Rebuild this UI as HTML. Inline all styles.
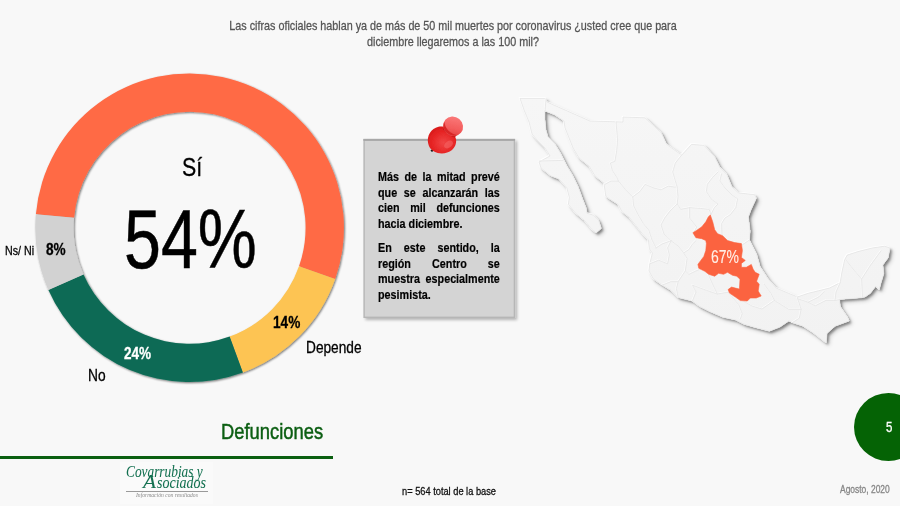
<!DOCTYPE html>
<html lang="es">
<head>
<meta charset="utf-8">
<title>Defunciones</title>
<style>
html,body{margin:0;padding:0;}
body{width:900px;height:506px;overflow:hidden;background:#f8f8f8;font-family:"Liberation Sans",sans-serif;}
#slide{position:relative;width:900px;height:506px;overflow:hidden;background:#f8f8f8;}
.t{position:absolute;white-space:nowrap;line-height:1;transform-origin:0 0;transform:scaleX(0.82);color:#000;-webkit-text-stroke:0.3px currentColor;}
svg{position:absolute;left:0;top:0;}
#title{position:absolute;left:152.5px;top:18.2px;-webkit-text-stroke:0.3px #555;width:600px;text-align:center;font-size:13.15px;line-height:16px;color:#555;transform:scaleX(0.82);transform-origin:50% 0;white-space:nowrap;}
#boxtext{-webkit-text-stroke:0.2px #000;position:absolute;left:378.3px;top:169px;width:148.6px;font-size:13.15px;line-height:15.5px;font-weight:bold;color:#000;transform:scaleX(0.82);transform-origin:0 0;}
#boxtext div{text-align:justify;text-align-last:justify;white-space:nowrap;}
#boxtext div.l{text-align:left;text-align-last:left;}
#boxtext div.g{margin-top:9.2px;}
#rule{position:absolute;left:0;top:456px;width:333px;height:3px;background:#0a5f10;}
#num{position:absolute;left:853.7px;top:393.3px;width:69px;height:68px;border-radius:50%;background:#056305;}
#logo{position:absolute;left:120px;top:462px;width:93px;height:42px;background:#fafafa;}
.lg{font-family:"Liberation Serif",serif;font-style:italic;}
#bigA{position:absolute;right:100%;bottom:-0.47px;font-size:19.5px;line-height:1;transform:scaleX(1.295);transform-origin:100% 100%;margin-right:0.6px;}
#lgline{position:absolute;left:126.3px;top:491px;width:81.3px;height:1px;background:#9a9a9a;}
</style>
</head>
<body>
<div id="slide">
<div id="title">Las cifras oficiales hablan ya de más de 50 mil muertes por coronavirus ¿usted cree que para<br>diciembre llegaremos a las 100 mil?</div>

<svg width="900" height="506" viewBox="0 0 900 506">
<defs>
<filter id="sh" x="-10%" y="-10%" width="120%" height="120%">
<feGaussianBlur in="SourceAlpha" stdDeviation="0.9"/>
<feOffset dx="1.3" dy="1.4"/>
<feComponentTransfer><feFuncA type="linear" slope="0.55"/></feComponentTransfer>
<feMerge><feMergeNode/><feMergeNode in="SourceGraphic"/></feMerge>
</filter>
<filter id="msh" x="-10%" y="-10%" width="120%" height="120%">
<feGaussianBlur in="SourceAlpha" stdDeviation="0.9" result="b1"/>
<feOffset in="b1" dx="1.7" dy="1.6" result="o1"/>
<feComponentTransfer in="o1" result="s1"><feFuncA type="linear" slope="0.36"/></feComponentTransfer>
<feGaussianBlur in="SourceAlpha" stdDeviation="2" result="b2"/>
<feOffset in="b2" dx="2.6" dy="2.6" result="o2"/>
<feComponentTransfer in="o2" result="s2"><feFuncA type="linear" slope="0.2"/></feComponentTransfer>
<feMerge><feMergeNode in="s2"/><feMergeNode in="s1"/><feMergeNode in="SourceGraphic"/></feMerge>
</filter>
</defs>
<g id="map">
<defs><linearGradient id="mg" gradientUnits="userSpaceOnUse" x1="0" y1="98" x2="0" y2="345"><stop offset="0" stop-color="#f6f6f6"/><stop offset="1" stop-color="#f2f2f2"/></linearGradient></defs>
<g filter="url(#msh)"><path d="M520.0 98.4L546.0 98.4L547.0 102.0L590.0 121.0L623.0 122.0L623.0 117.0L645.0 117.8L661.3 132.9L666.7 144.4L681.8 155.1L691.6 144.4L704.0 145.3L714.7 156.9L720.0 167.6L727.0 174.7L732.0 187.0L738.7 192.9L754.7 194.7L756.4 198.2L751.1 209.8L748.4 216.9L750.2 231.1L749.5 240.0L756.7 254.2L760.2 266.7L768.2 279.1L776.2 288.0L788.7 293.3L797.6 296.9L808.2 293.3L818.9 290.7L829.6 288.0L840.2 282.7L842.0 272.0L844.7 259.6L847.3 255.1L858.0 251.6L872.2 248.0L884.7 246.2L890.0 248.0L888.2 257.8L882.9 264.9L883.8 273.8L881.1 282.7L879.3 289.8L875.8 286.2L870.4 293.3L865.1 296.9L861.6 297.8L839.6 299.6L840.4 306.7L847.6 317.3L849.3 320.9L835.1 326.2L827.1 333.3L826.2 343.1L813.8 333.3L803.1 326.2L792.4 322.7L788.9 320.9L780.0 327.1L769.3 331.2L756.9 328.0L744.4 324.4L735.6 320.0L723.1 317.3L710.7 312.0L700.0 306.7L692.4 301.1L678.2 297.6L671.1 290.4L662.2 285.1L653.3 278.9L648.9 270.9L649.8 263.8L652.4 253.1L649.3 248.9L648.4 240.0L643.1 234.7L636.0 225.8L628.9 216.9L621.8 211.6L618.2 204.4L611.1 200.0L605.8 196.4L604.9 190.2L604.0 183.1L595.0 176.0L589.0 166.0L579.0 158.0L573.0 148.0L569.0 138.0L565.0 128.0L564.0 121.0L555.0 115.0L545.0 111.0L545.0 120.0L546.0 130.0L548.0 137.0L555.0 144.0L561.0 154.0L567.0 166.0L573.0 176.0L578.2 186.7L582.7 199.1L586.2 208.0L587.1 213.3L593.3 215.1L598.7 220.4L601.3 228.4L596.0 232.9L591.6 229.3L584.4 220.4L575.6 213.3L568.4 204.4L569.3 197.3L566.7 187.6L559.0 179.0L551.0 176.0L541.0 168.0L539.0 162.0L550.0 156.0L545.0 148.0L537.0 140.0L532.0 134.0L529.0 122.0L524.0 110.0Z" fill="url(#mg)"/></g>
<path d="M520.0 98.4L546.0 98.4L547.0 102.0L590.0 121.0L623.0 122.0L623.0 117.0L645.0 117.8L661.3 132.9L666.7 144.4L681.8 155.1L691.6 144.4L704.0 145.3L714.7 156.9L720.0 167.6L727.0 174.7L732.0 187.0L738.7 192.9L754.7 194.7L756.4 198.2L751.1 209.8L748.4 216.9L750.2 231.1L749.5 240.0L756.7 254.2L760.2 266.7L768.2 279.1L776.2 288.0L788.7 293.3L797.6 296.9L808.2 293.3L818.9 290.7L829.6 288.0L840.2 282.7L842.0 272.0L844.7 259.6L847.3 255.1L858.0 251.6L872.2 248.0L884.7 246.2L890.0 248.0L888.2 257.8L882.9 264.9L883.8 273.8L881.1 282.7L879.3 289.8L875.8 286.2L870.4 293.3L865.1 296.9L861.6 297.8L839.6 299.6L840.4 306.7L847.6 317.3L849.3 320.9L835.1 326.2L827.1 333.3L826.2 343.1L813.8 333.3L803.1 326.2L792.4 322.7L788.9 320.9L780.0 327.1L769.3 331.2L756.9 328.0L744.4 324.4L735.6 320.0L723.1 317.3L710.7 312.0L700.0 306.7L692.4 301.1L678.2 297.6L671.1 290.4L662.2 285.1L653.3 278.9L648.9 270.9L649.8 263.8L652.4 253.1L649.3 248.9L648.4 240.0L643.1 234.7L636.0 225.8L628.9 216.9L621.8 211.6L618.2 204.4L611.1 200.0L605.8 196.4L604.9 190.2L604.0 183.1L595.0 176.0L589.0 166.0L579.0 158.0L573.0 148.0L569.0 138.0L565.0 128.0L564.0 121.0L555.0 115.0L545.0 111.0L545.0 120.0L546.0 130.0L548.0 137.0L555.0 144.0L561.0 154.0L567.0 166.0L573.0 176.0L578.2 186.7L582.7 199.1L586.2 208.0L587.1 213.3L593.3 215.1L598.7 220.4L601.3 228.4L596.0 232.9L591.6 229.3L584.4 220.4L575.6 213.3L568.4 204.4L569.3 197.3L566.7 187.6L559.0 179.0L551.0 176.0L541.0 168.0L539.0 162.0L550.0 156.0L545.0 148.0L537.0 140.0L532.0 134.0L529.0 122.0L524.0 110.0Z" fill="none" stroke="#ffffff" stroke-width="1.2" stroke-linejoin="round" transform="translate(-0.7,-0.7)" opacity="0.9"/>
<path d="M520.0 98.4L546.0 98.4L547.0 102.0L590.0 121.0L623.0 122.0L623.0 117.0L645.0 117.8L661.3 132.9L666.7 144.4L681.8 155.1L691.6 144.4L704.0 145.3L714.7 156.9L720.0 167.6L727.0 174.7L732.0 187.0L738.7 192.9L754.7 194.7L756.4 198.2L751.1 209.8L748.4 216.9L750.2 231.1L749.5 240.0L756.7 254.2L760.2 266.7L768.2 279.1L776.2 288.0L788.7 293.3L797.6 296.9L808.2 293.3L818.9 290.7L829.6 288.0L840.2 282.7L842.0 272.0L844.7 259.6L847.3 255.1L858.0 251.6L872.2 248.0L884.7 246.2L890.0 248.0L888.2 257.8L882.9 264.9L883.8 273.8L881.1 282.7L879.3 289.8L875.8 286.2L870.4 293.3L865.1 296.9L861.6 297.8L839.6 299.6L840.4 306.7L847.6 317.3L849.3 320.9L835.1 326.2L827.1 333.3L826.2 343.1L813.8 333.3L803.1 326.2L792.4 322.7L788.9 320.9L780.0 327.1L769.3 331.2L756.9 328.0L744.4 324.4L735.6 320.0L723.1 317.3L710.7 312.0L700.0 306.7L692.4 301.1L678.2 297.6L671.1 290.4L662.2 285.1L653.3 278.9L648.9 270.9L649.8 263.8L652.4 253.1L649.3 248.9L648.4 240.0L643.1 234.7L636.0 225.8L628.9 216.9L621.8 211.6L618.2 204.4L611.1 200.0L605.8 196.4L604.9 190.2L604.0 183.1L595.0 176.0L589.0 166.0L579.0 158.0L573.0 148.0L569.0 138.0L565.0 128.0L564.0 121.0L555.0 115.0L545.0 111.0L545.0 120.0L546.0 130.0L548.0 137.0L555.0 144.0L561.0 154.0L567.0 166.0L573.0 176.0L578.2 186.7L582.7 199.1L586.2 208.0L587.1 213.3L593.3 215.1L598.7 220.4L601.3 228.4L596.0 232.9L591.6 229.3L584.4 220.4L575.6 213.3L568.4 204.4L569.3 197.3L566.7 187.6L559.0 179.0L551.0 176.0L541.0 168.0L539.0 162.0L550.0 156.0L545.0 148.0L537.0 140.0L532.0 134.0L529.0 122.0L524.0 110.0Z" fill="url(#mg)" stroke="#e2e2e2" stroke-width="0.7" stroke-linejoin="round"/>
<path d="M546.0 99.0L545.0 111.0 M539.0 161.0L563.0 160.4 M616.0 122.0L617.6 140.0L616.7 150.7L614.9 161.3L610.4 163.0L612.2 170.2L616.7 177.3L618.4 181.0 M605.0 184.4L611.0 181.0L618.4 181.0 M618.4 181.0L625.6 189.8L632.7 196.9L633.6 205.8L638.0 214.7L643.3 223.6L648.7 230.0L652.0 240.0L656.0 248.0 M632.7 196.9L639.8 191.6L645.1 184.4L654.0 188.0L661.1 189.8L668.2 186.2L675.3 187.1 M681.6 155.1L675.3 163.1L672.7 172.0L675.3 180.9L677.1 187.1 M677.1 187.1L678.0 196.9L677.1 204.0L680.7 209.3L689.6 207.6L700.2 208.4L709.1 209.3L710.9 214.7 M718.0 172.0L712.7 177.3L707.3 184.4L706.4 191.6L710.9 198.7L718.0 204.0L714.4 207.6L710.9 214.7 M721.6 173.8L719.8 180.9L725.0 188.0L732.0 195.0L737.6 198.7L735.8 207.6L730.4 214.7L725.0 218.0L721.6 223.6L722.0 237.0 M677.1 204.0L670.0 211.0L664.7 218.0L661.0 225.0L664.0 234.0L671.1 240.7 M689.6 207.6L689.6 218.0L696.7 227.0L694.0 232.0 M649.8 263.8L658.7 260.2L667.6 263.8L669.3 254.9L667.6 247.8L671.1 240.7 M656.0 248.0L662.0 244.0L671.1 240.7 M671.1 240.7L678.2 246.0L683.6 253.0L688.9 249.6L692.4 244.2L696.0 240.7 M683.6 253.0L687.1 258.4L685.3 270.9L688.9 274.4L696.0 270.9L698.5 269.9 M662.2 285.1L671.1 281.6L678.2 281.6L676.4 288.7L678.2 297.6 M678.2 281.6L685.3 270.9 M692.4 301.1L696.0 292.0L692.4 285.1L706.7 290.4L717.3 294.0L728.0 292.2 M708.4 274.6L712.0 283.0L717.3 294.0 M728.0 292.2L738.7 304.7L742.2 313.6L740.4 318.9 M742.8 300.7L752.0 306.0L762.0 309.0L774.4 300.4L770.9 293.3L764.0 284.0 M774.4 300.4L788.7 309.3L801.1 309.3L797.6 298.7L797.6 296.9 M801.1 309.3L799.3 318.2L792.4 322.7 M797.6 298.7L808.2 302.2L818.9 296.9L824.2 291.6 M808.2 302.2L815.3 305.8L826.0 300.4L834.9 300.4L839.6 299.6 M845.6 259.6L853.0 269.0L861.6 279.1L862.4 296.9 M861.6 279.1L870.0 266.0L881.1 250.7 M840.2 282.7L836.0 292.0L834.9 300.4 M722.0 237.0L730.0 241.0L742.1 245.0 M742.1 245.0L749.5 240.0" fill="none" stroke="#ffffff" stroke-width="0.9" stroke-linejoin="round" stroke-linecap="round" transform="translate(-0.6,-0.6)" opacity="0.8"/>
<path d="M546.0 99.0L545.0 111.0 M539.0 161.0L563.0 160.4 M616.0 122.0L617.6 140.0L616.7 150.7L614.9 161.3L610.4 163.0L612.2 170.2L616.7 177.3L618.4 181.0 M605.0 184.4L611.0 181.0L618.4 181.0 M618.4 181.0L625.6 189.8L632.7 196.9L633.6 205.8L638.0 214.7L643.3 223.6L648.7 230.0L652.0 240.0L656.0 248.0 M632.7 196.9L639.8 191.6L645.1 184.4L654.0 188.0L661.1 189.8L668.2 186.2L675.3 187.1 M681.6 155.1L675.3 163.1L672.7 172.0L675.3 180.9L677.1 187.1 M677.1 187.1L678.0 196.9L677.1 204.0L680.7 209.3L689.6 207.6L700.2 208.4L709.1 209.3L710.9 214.7 M718.0 172.0L712.7 177.3L707.3 184.4L706.4 191.6L710.9 198.7L718.0 204.0L714.4 207.6L710.9 214.7 M721.6 173.8L719.8 180.9L725.0 188.0L732.0 195.0L737.6 198.7L735.8 207.6L730.4 214.7L725.0 218.0L721.6 223.6L722.0 237.0 M677.1 204.0L670.0 211.0L664.7 218.0L661.0 225.0L664.0 234.0L671.1 240.7 M689.6 207.6L689.6 218.0L696.7 227.0L694.0 232.0 M649.8 263.8L658.7 260.2L667.6 263.8L669.3 254.9L667.6 247.8L671.1 240.7 M656.0 248.0L662.0 244.0L671.1 240.7 M671.1 240.7L678.2 246.0L683.6 253.0L688.9 249.6L692.4 244.2L696.0 240.7 M683.6 253.0L687.1 258.4L685.3 270.9L688.9 274.4L696.0 270.9L698.5 269.9 M662.2 285.1L671.1 281.6L678.2 281.6L676.4 288.7L678.2 297.6 M678.2 281.6L685.3 270.9 M692.4 301.1L696.0 292.0L692.4 285.1L706.7 290.4L717.3 294.0L728.0 292.2 M708.4 274.6L712.0 283.0L717.3 294.0 M728.0 292.2L738.7 304.7L742.2 313.6L740.4 318.9 M742.8 300.7L752.0 306.0L762.0 309.0L774.4 300.4L770.9 293.3L764.0 284.0 M774.4 300.4L788.7 309.3L801.1 309.3L797.6 298.7L797.6 296.9 M801.1 309.3L799.3 318.2L792.4 322.7 M797.6 298.7L808.2 302.2L818.9 296.9L824.2 291.6 M808.2 302.2L815.3 305.8L826.0 300.4L834.9 300.4L839.6 299.6 M845.6 259.6L853.0 269.0L861.6 279.1L862.4 296.9 M861.6 279.1L870.0 266.0L881.1 250.7 M840.2 282.7L836.0 292.0L834.9 300.4 M722.0 237.0L730.0 241.0L742.1 245.0 M742.1 245.0L749.5 240.0" fill="none" stroke="#e4e4e4" stroke-width="0.8" stroke-linejoin="round" stroke-linecap="round"/>
<path d="M710.3 214.9L712.7 221.8L714.7 229.8L717.6 233.7L722.6 235.7L727.5 240.6L734.5 242.6L741.4 243.6L742.4 250.5L741.4 257.5L745.3 260.4L741.4 263.4L741.4 267.3L746.3 267.3L751.3 264.4L753.2 269.3L755.2 272.3L759.2 274.3L756.6 281.2L759.2 284.2L758.2 291.1L761.2 296.0L756.2 298.0L750.3 298.0L747.3 301.0L740.4 300.6L735.4 297.0L729.5 293.1L728.1 289.5L731.5 287.1L735.4 288.1L739.4 289.1L740.0 279.2L736.8 276.2L732.5 275.3L727.5 272.3L723.6 274.3L718.6 273.3L714.7 276.2L708.7 274.3L704.8 271.3L698.8 268.3L697.9 264.4L700.8 260.4L703.8 256.5L705.8 250.5L706.4 243.6L705.8 240.6L701.8 238.7L695.9 237.7L692.9 232.7L696.9 230.2L701.8 226.8L705.8 221.8L708.3 216.9Z" fill="#FB6340" stroke="#FB6340" stroke-width="0.6" stroke-linejoin="round"/>
</g>
<g filter="url(#sh)">
<path d="M35.89 214.30A154.3 154.3 0 1 1 335.14 279.00L299.01 266.28A116.0 116.0 0 1 0 74.04 217.64Z" fill="#FF6A45"/>
<path d="M335.14 279.00A154.3 154.3 0 0 1 242.88 372.56L229.65 336.62A116.0 116.0 0 0 0 299.01 266.28Z" fill="#FDC453"/>
<path d="M242.88 372.56A154.3 154.3 0 0 1 48.42 290.02L83.46 274.56A116.0 116.0 0 0 0 229.65 336.62Z" fill="#0A6B55"/>
<path d="M48.42 290.02A154.3 154.3 0 0 1 35.89 214.30L74.04 217.64A116.0 116.0 0 0 0 83.46 274.56Z" fill="#D2D2D2"/>
</g>
</svg>

<svg width="900" height="506" viewBox="0 0 900 506"><defs><filter id="bsh" x="-10%" y="-10%" width="125%" height="125%"><feGaussianBlur in="SourceAlpha" stdDeviation="1.6"/><feOffset dx="1.6" dy="1.8"/><feComponentTransfer><feFuncA type="linear" slope="0.28"/></feComponentTransfer><feMerge><feMergeNode/><feMergeNode in="SourceGraphic"/></feMerge></filter></defs><rect x="364.1" y="139.6" width="150.3" height="177.7" fill="#d4d4d4" stroke="#b6b6b6" stroke-width="1.4" filter="url(#bsh)"/><rect x="363.4" y="138.9" width="151.7" height="2" fill="#a8a8a8"/></svg>
<div id="boxtext">
<div>Más de la mitad prevé</div>
<div>que se alcanzarán las</div>
<div>cien mil defunciones</div>
<div class="l">hacia diciembre.</div>
<div class="g">En este sentido, la</div>
<div>región Centro se</div>
<div>muestra especialmente</div>
<div class="l">pesimista.</div>
</div>

<svg width="900" height="506" viewBox="0 0 900 506" id="pin">
<defs>
<radialGradient id="pg1" cx="0.55" cy="0.6" r="0.75">
<stop offset="0" stop-color="#f04545"/><stop offset="0.55" stop-color="#e62424"/><stop offset="1" stop-color="#d01515"/>
</radialGradient>
<linearGradient id="pg2" x1="0.2" y1="0" x2="0.8" y2="1">
<stop offset="0" stop-color="#fb7c7c"/><stop offset="0.6" stop-color="#f35c5c"/><stop offset="1" stop-color="#e23a3a"/>
</linearGradient>
<filter id="pb" x="-20%" y="-20%" width="140%" height="140%"><feGaussianBlur stdDeviation="0.5"/></filter>
</defs>
<g filter="url(#pb)">
<circle cx="432" cy="150.6" r="1.2" fill="#1a1a1a"/>
<path d="M428.2 143.5 C426.5 136 431 128.5 438.5 126.8 C441 126.2 443.5 126.5 445 127.5 L455.5 137.5 C457 141 456 146.5 452 150 C447 154 439.5 154.5 434 151.5 C430.5 149.5 428.8 146.5 428.2 143.5 Z" fill="url(#pg1)"/>
<ellipse cx="448.5" cy="144.5" rx="5" ry="3.2" fill="#f56a6a" opacity="0.55" transform="rotate(-35 448.5 144.5)"/>
<path d="M443 129 C446 133 450.5 136.5 455 137.5 L457 134 L445 124 Z" fill="#c41414"/>
<ellipse cx="453.1" cy="126.3" rx="10.2" ry="9.6" fill="url(#pg2)" transform="rotate(40 453.1 126.3)"/>
<path d="M444.5 122 C444.8 128 450 134 457.5 135.2 C452 136.8 445.5 133.5 443.6 128.2 C443 126 443.4 123.6 444.5 122 Z" fill="#d62020" opacity="0.85"/>
</g>
</svg>

<div id="rule"></div>
<div id="num"></div>
<div id="logo"></div>
<div id="lgline"></div>
<div class="t" style="left:182.14px;top:153.69px;font-size:26px;color:#000;">Sí</div>
<div class="t" style="left:124.33px;top:197.39px;font-size:84.0px;color:#000;transform:scaleX(0.7902);-webkit-text-stroke-width:0.5px;">54%</div>
<div class="t" style="left:4.68px;top:243.60px;font-size:13px;color:#000;">Ns/ Ni</div>
<div class="t" style="left:45.79px;top:241.55px;font-size:16.6px;font-weight:bold;color:#000;">8%</div>
<div class="t" style="left:123.79px;top:344.73px;font-size:16.5px;font-weight:bold;color:#fff;">24%</div>
<div class="t" style="left:88.27px;top:367.98px;font-size:16.8px;color:#000;">No</div>
<div class="t" style="left:272.78px;top:315.45px;font-size:16.6px;font-weight:bold;color:#000;">14%</div>
<div class="t" style="left:306.08px;top:339.86px;font-size:16.7px;color:#000;">Depende</div>
<div class="t" style="left:220.77px;top:421.34px;font-size:22.4px;color:#0b5e12;-webkit-text-stroke-width:0.5px;">Defunciones</div>
<div class="t" style="left:886.32px;top:419.95px;font-size:14px;color:#fff;">5</div>
<div class="t" style="left:839.70px;top:484.58px;font-size:10.3px;color:#878787;">Agosto, 2020</div>
<div class="t" style="left:711.14px;top:247.56px;font-size:18.6px;color:#fff0e8;transform:scaleX(0.7528);-webkit-text-stroke-width:0.1px;">67%</div>
<div class="t" style="left:402.09px;top:486.28px;font-size:11.3px;color:#111;">n= 564 total de la base</div>
<div class="t lg" style="left:126.10px;top:464.00px;font-size:16.6px;color:#137050;transform:scaleX(0.8042);-webkit-text-stroke-width:0.05px;">Covarrubias y</div>
<div class="t lg" id="lg2" style="left:157.2px;top:474.5px;font-size:16.6px;color:#137050;transform:scaleX(0.845);-webkit-text-stroke-width:0.05px;"><span id="bigA">A</span>sociados</div>
<div class="t lg" style="left:136.40px;top:492.91px;font-size:5.6px;color:#8a8a8a;transform:scaleX(1.0033);-webkit-text-stroke-width:0px;">Información con resultados</div>
</div>
</body>
</html>
